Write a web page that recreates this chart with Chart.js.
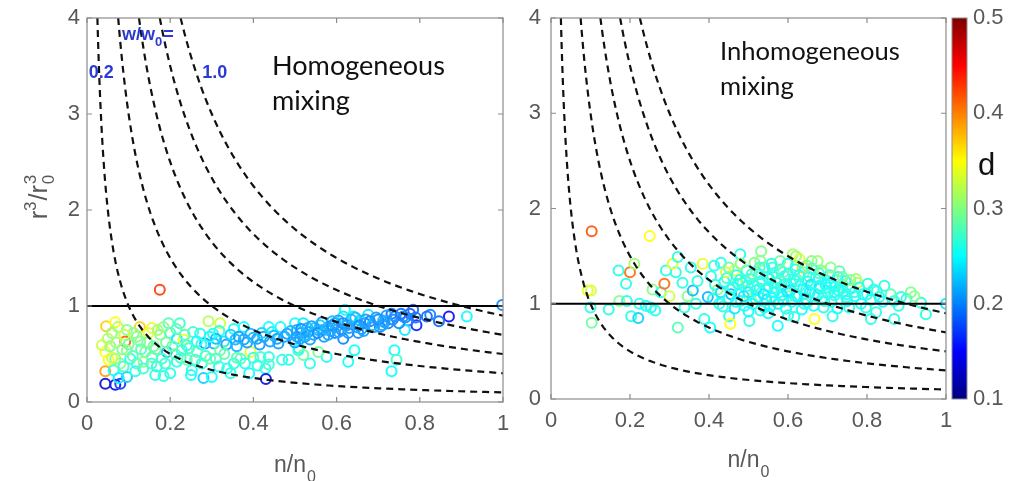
<!DOCTYPE html>
<html>
<head>
<meta charset="utf-8">
<script src="https://cdn.jsdelivr.net/npm/chart.js@4/dist/chart.umd.min.js"></script>
<style>
  html, body { margin: 0; padding: 0; background: #fff; }
  #wrap { position: relative; width: 1019px; height: 481px; overflow: hidden; background: #fff; }
  canvas { position: absolute; top: 0; }
  #homCanvas { left: 0; }
  #inhCanvas { left: 520px; }
</style>
</head>
<body>
<div id="wrap">
  <canvas id="homCanvas" width="520" height="481"></canvas>
  <canvas id="inhCanvas" width="499" height="481"></canvas>
</div>
<script>
// ---- axis ticks ----
const xTickValues = [0, 0.2, 0.4, 0.6, 0.8, 1];
const xTickLabels = ['0', '0.2', '0.4', '0.6', '0.8', '1'];
const yTickValues = [0, 1, 2, 3, 4];
const yTickLabels = ['0', '1', '2', '3', '4'];
const dTickValues = [0.1, 0.2, 0.3, 0.4, 0.5];
const dTickLabels = ['0.1', '0.2', '0.3', '0.4', '0.5'];

// ---- reference lines: w/w0 isolines (r3/r03 = level / (n/n0)) and r3/r03 = 1 ----
const isolineLevels = [0.1, 0.3, 0.5, 0.7, 0.9];
const unityLineX = [0, 1];
const unityLineY = [1, 1];

// ---- homogeneous mixing panel: n/n0, r3/r03, d ----
const homX = [
  .175,.046,.068,.074,.060,.092,.127,.112,.156,.176,
  .196,.223,.200,.216,.232,.255,.272,.292,.320,.303,
  .284,.264,.305,.329,.318,.353,.377,.393,.377,.357,
  .409,.425,.445,.437,.465,.481,.500,.505,.457,.497,
  .393,.417,.437,.469,.485,.509,.429,.437,.430,.044,
  .044,.068,.080,.096,.076,.064,.044,.036,.056,.052,
  .068,.080,.104,.096,.120,.116,.140,.128,.160,.156,
  .168,.164,.184,.188,.192,.212,.216,.228,.240,.252,
  .280,.300,.276,.296,.317,.337,.353,.369,.320,.264,
  .148,.096,.184,.240,.136,.088,.998,.913,.870,.846,
  .825,.817,.792,.776,.784,.772,.760,.764,.740,.732,
  .724,.712,.704,.676,.668,.656,.648,.640,.620,.616,
  .604,.596,.612,.616,.628,.652,.580,.568,.556,.548,
  .532,.524,.512,.536,.580,.596,.520,.643,.576,.556,
  .536,.628,.739,.744,.732,.508,.520,.310,.335,.345,
  .360,.365,.385,.400,.415,.420,.440,.450,.460,.475,
  .490,.500,.515,.530,.545,.560,.570,.585,.590,.600,
  .625,.635,.660,.670,.685,.695,.710,.720,.750,.765,
  .790,.050,.060,.070,.085,.090,.100,.110,.120,.130,
  .135,.145,.155,.165,.170,.180,.190,.200,.205,.215,
  .225,.235,.245,.250,.260,.275,.285,.295,.310,.330,
  .345,.360,.380,.390,.400,.410,.505,.515,.525,.540,
  .555,.565,.575,.590,.605,.615,.630,.645,.655,.665,
  .680,.690,.700,.715,.735,.755
];
const homY = [
  1.17,.79,.83,.78,.72,.63,.78,.72,.77,.70,
  .82,.82,.72,.66,.65,.73,.71,.84,.82,.71,
  .61,.63,.61,.63,.74,.76,.78,.71,.65,.65,
  .66,.68,.73,.78,.78,.71,.82,.75,.66,.65,
  .52,.47,.47,.44,.44,.56,.35,.39,.24,.32,
  .19,.18,.19,.26,.25,.33,.52,.59,.58,.44,
  .45,.40,.45,.54,.40,.32,.52,.63,.58,.47,
  .37,.28,.27,.40,.52,.50,.42,.54,.44,.33,
  .25,.26,.40,.45,.37,.35,.40,.45,.54,.52,
  .72,.75,.78,.59,.42,.37,1.01,.89,.89,.84,
  .91,.89,.80,.92,.96,.85,.89,.75,.89,.92,
  .82,.85,.78,.91,.82,.85,.78,.89,.96,.89,
  .85,.82,.75,.66,.72,.72,.78,.75,.75,.77,
  .73,.68,.66,.65,.70,.72,.82,.54,.47,.52,
  .40,.42,.54,.44,.32,.54,.49,.66,.60,.70,
  .58,.68,.62,.67,.60,.72,.63,.69,.61,.68,
  .74,.62,.72,.77,.70,.80,.68,.74,.84,.78,
  .80,.86,.76,.86,.80,.88,.80,.90,.82,.88,
  .88,.66,.46,.62,.55,.70,.60,.48,.68,.55,
  .35,.62,.40,.55,.75,.45,.62,.30,.58,.76,
  .46,.70,.56,.28,.44,.60,.48,.68,.45,.50,
  .30,.46,.40,.30,.46,.38,.68,.76,.70,.79,
  .72,.83,.76,.80,.73,.82,.77,.88,.80,.74,
  .84,.78,.86,.83,.86,.92
];
const homD = [
  .43,.37,.35,.32,.30,.42,.37,.30,.34,.30,
  .28,.27,.27,.24,.34,.27,.26,.32,.33,.26,
  .21,.25,.22,.24,.26,.25,.25,.22,.21,.22,
  .21,.21,.24,.25,.25,.21,.25,.21,.21,.21,
  .34,.27,.26,.26,.26,.25,.26,.27,.14,.39,
  .13,.14,.17,.23,.24,.25,.35,.33,.30,.35,
  .30,.30,.26,.30,.27,.26,.29,.30,.29,.28,
  .26,.26,.26,.27,.22,.29,.26,.26,.29,.26,
  .23,.25,.26,.29,.26,.26,.26,.28,.29,.29,
  .34,.30,.30,.26,.30,.27,.20,.25,.15,.19,
  .20,.19,.16,.18,.19,.19,.20,.24,.20,.19,
  .20,.22,.20,.24,.20,.23,.21,.24,.25,.24,
  .21,.21,.20,.20,.20,.20,.21,.21,.21,.23,
  .21,.21,.21,.21,.21,.20,.24,.25,.25,.29,
  .26,.25,.25,.27,.25,.26,.29,.22,.21,.23,
  .22,.21,.21,.22,.21,.23,.21,.22,.21,.21,
  .22,.21,.21,.22,.21,.23,.21,.21,.22,.21,
  .21,.22,.21,.21,.22,.21,.21,.21,.20,.20,
  .19,.32,.33,.31,.30,.33,.29,.28,.30,.28,
  .27,.29,.27,.29,.31,.27,.29,.26,.28,.28,
  .27,.28,.27,.25,.27,.26,.27,.25,.27,.28,
  .26,.28,.26,.25,.27,.26,.21,.20,.22,.21,
  .20,.21,.22,.20,.21,.20,.21,.22,.20,.21,
  .20,.21,.20,.21,.20,.19
];

// ---- inhomogeneous mixing panel: n/n0, r3/r03, d ----
const inhX = [
  .103,.250,.200,.211,.171,.190,.101,.093,.100,.103,
  .146,.173,.192,.203,.221,.224,.240,.253,.264,.257,
  .278,.287,.291,.300,.316,.308,.321,.321,.333,.338,
  .346,.354,.359,.367,.371,.384,.388,.397,.403,.405,
  .413,.422,.426,.430,.439,.443,.451,.456,.454,.464,
  .473,.479,.481,.494,.502,.506,.515,.519,.527,.532,
  .540,.544,.553,.561,.565,.574,.582,.591,.599,.603,
  .612,.616,.620,.629,.637,.641,.646,.654,.667,.675,
  .679,.688,.692,.700,.713,.717,.726,.734,.747,.755,
  .772,.776,.789,.797,.802,.810,.817,.823,.831,.844,
  .869,.869,.886,.911,.937,.949,1.000,.410,.415,.430,
  .435,.445,.450,.460,.465,.470,.475,.485,.490,.495,
  .500,.505,.510,.515,.520,.525,.530,.535,.540,.545,
  .550,.555,.560,.565,.570,.575,.580,.585,.590,.595,
  .600,.605,.610,.615,.620,.625,.630,.635,.640,.645,
  .650,.655,.660,.665,.670,.675,.680,.685,.690,.695,
  .700,.705,.710,.720,.725,.730,.740,.745,.750,.760,
  .770,.780,.785,.800,.810,.825,.840,.860,.880,.900,
  .920,.550,.600,.500,.450,.480,.530,.580,.620,.660,
  .455,.468,.478,.488,.498,.508,.518,.528,.538,.548,
  .558,.568,.578,.588,.598,.608,.618,.628,.638,.648,
  .658,.668,.678,.688,.698,.708,.718,.728,.738,.748,
  .758,.768,.528,.558,.588,.618,.648,.678,.708,.738
];
const inhY = [
  1.76,1.71,1.33,1.42,1.35,1.21,1.14,1.14,.96,.80,
  .94,1.03,1.03,.87,.85,1.00,.98,.96,.93,1.15,
  1.12,1.21,1.35,1.08,1.33,1.42,1.49,.75,1.22,.96,
  1.08,1.38,1.14,1.00,1.24,1.42,.84,1.07,.75,1.29,
  1.40,1.15,1.00,1.43,1.23,1.33,.87,1.10,.79,1.35,
  1.21,1.52,1.03,1.24,.82,1.05,1.43,1.14,1.31,1.55,
  .96,1.15,1.26,1.38,1.03,.77,1.17,1.29,1.42,1.08,
  1.52,.86,1.24,1.47,1.38,1.00,1.15,1.28,.84,1.45,
  1.19,1.33,1.03,1.24,.87,1.12,1.28,1.17,1.07,.96,
  1.26,1.22,1.10,.96,1.21,.84,1.15,.91,1.07,1.19,
  .84,1.03,1.07,1.12,1.01,.89,1.00,1.05,1.20,1.12,
  .97,1.27,1.06,1.17,.95,1.30,1.10,1.22,.98,1.35,
  1.12,1.26,1.00,1.19,1.33,1.07,.93,1.24,1.38,1.04,
  1.18,.97,1.30,1.12,1.22,1.00,1.36,1.09,1.20,.95,
  1.31,1.14,1.02,1.26,1.40,1.08,1.19,.94,1.33,1.05,
  1.23,1.12,1.37,.98,1.27,1.09,1.16,1.35,.96,1.20,
  1.11,1.30,1.02,1.18,.95,1.34,1.13,1.24,1.03,1.16,
  1.08,1.17,1.00,1.10,1.04,1.13,1.02,1.10,.98,1.05,
  1.08,.90,.88,.92,1.38,1.42,1.45,1.45,1.50,1.45,
  1.15,1.02,1.25,1.08,1.19,1.31,1.05,1.16,1.10,1.28,
  1.06,1.17,1.24,1.03,1.13,1.21,1.08,1.30,1.15,1.01,
  1.20,1.11,1.26,1.06,1.17,1.22,1.09,1.14,1.20,1.10,
  1.25,1.12,1.38,1.42,1.33,1.36,1.40,1.32,1.38,1.28
];
const inhD = [
  .42,.35,.41,.31,.26,.26,.33,.34,.26,.29,
  .26,.30,.26,.26,.23,.26,.25,.25,.26,.30,
  .26,.41,.26,.33,.26,.34,.26,.28,.26,.26,
  .30,.26,.22,.26,.26,.34,.26,.22,.25,.26,
  .26,.30,.26,.26,.25,.33,.26,.22,.35,.34,
  .26,.26,.26,.30,.26,.33,.30,.26,.26,.30,
  .25,.26,.25,.26,.29,.25,.26,.26,.25,.30,
  .31,.26,.26,.34,.37,.26,.26,.26,.35,.31,
  .26,.30,.26,.26,.26,.26,.26,.26,.26,.26,
  .31,.32,.26,.26,.26,.26,.26,.26,.26,.26,
  .26,.26,.26,.30,.26,.26,.24,.25,.26,.24,
  .26,.27,.25,.26,.24,.26,.25,.27,.25,.26,
  .24,.26,.25,.26,.29,.25,.26,.26,.26,.24,
  .26,.25,.27,.25,.26,.24,.26,.25,.26,.25,
  .26,.24,.25,.26,.27,.25,.26,.25,.29,.24,
  .26,.25,.26,.25,.26,.25,.24,.30,.26,.25,
  .26,.26,.25,.26,.25,.28,.25,.26,.25,.26,
  .25,.26,.25,.26,.25,.26,.25,.28,.26,.26,
  .30,.25,.26,.25,.29,.30,.30,.29,.31,.30,
  .26,.25,.26,.24,.26,.27,.25,.26,.24,.26,
  .25,.26,.27,.25,.24,.26,.25,.26,.25,.26,
  .24,.26,.25,.26,.26,.25,.26,.25,.27,.26,
  .30,.26,.27,.26,.28,.26,.29,.27,.30,.29
];

const D_MIN = 0.1, D_MAX = 0.5;
const TICK_COLOR = '#585858';
const FRAME_COLOR = '#8c8c8c';
const TICK_FONT = { family: '"Liberation Sans", Arial, sans-serif', size: 22 };

// jet colour map on [0,1]
function jet(t) {
  const c = v => Math.max(0, Math.min(1, v));
  return [c(1.5 - Math.abs(4 * t - 3)), c(1.5 - Math.abs(4 * t - 2)), c(1.5 - Math.abs(4 * t - 1))];
}
function dColor(d, soften) {
  const t = Math.max(0, Math.min(1, (d - D_MIN) / (D_MAX - D_MIN)));
  const k = soften === undefined ? 0.12 : soften;
  const rgb = jet(t).map(v => Math.round((v * (1 - k) + k) * 255));
  return `rgb(${rgb[0]},${rgb[1]},${rgb[2]})`;
}

function isolinePoints(level) {
  const pts = [];
  const x0 = level / 4;
  const n = 90;
  for (let i = 0; i <= n; i++) {
    const x = x0 + (1 - x0) * Math.pow(i / n, 2);
    pts.push({ x: x, y: level / x });
  }
  return pts;
}

function buildDatasets(xs, ys, ds) {
  const sets = [];
  isolineLevels.forEach(level => sets.push({
    type: 'line', data: isolinePoints(level), borderColor: '#111', borderWidth: 2.2,
    borderDash: [7, 5], pointRadius: 0, tension: 0, fill: false
  }));
  sets.push({
    type: 'line', data: unityLineX.map((x, i) => ({ x: x, y: unityLineY[i] })),
    borderColor: '#000', borderWidth: 2, pointRadius: 0, fill: false
  });
  sets.push({
    type: 'scatter', data: xs.map((x, i) => ({ x: x, y: ys[i] })),
    pointStyle: 'circle', pointRadius: 5, pointBorderWidth: 2,
    pointBackgroundColor: 'rgba(0,0,0,0)',
    pointBorderColor: ds.map(d => dColor(d))
  });
  return sets;
}

// axis with fixed tick values; the label gap is made with an invisible tick mark
function tickAxis(values, labels, gap, extra) {
  return Object.assign({
    type: 'linear',
    afterBuildTicks: s => { s.ticks = values.map(v => ({ value: v })); },
    ticks: {
      color: TICK_COLOR, font: TICK_FONT, padding: 0,
      callback: (v) => { const i = values.indexOf(v); return i >= 0 ? labels[i] : ''; }
    },
    grid: {
      display: true, drawOnChartArea: false, drawTicks: true,
      tickLength: gap, color: 'rgba(0,0,0,0)'
    },
    border: { display: false }
  }, extra);
}

// box frame with inward tick marks on all four sides
function drawFrame(chart) {
  const { ctx, chartArea: a, scales: { x, y } } = chart;
  ctx.save();
  ctx.strokeStyle = FRAME_COLOR;
  ctx.lineWidth = 1.2;
  ctx.strokeRect(a.left, a.top, a.right - a.left, a.bottom - a.top);
  ctx.beginPath();
  xTickValues.forEach(v => {
    const px = x.getPixelForValue(v);
    ctx.moveTo(px, a.bottom); ctx.lineTo(px, a.bottom - 5);
    ctx.moveTo(px, a.top); ctx.lineTo(px, a.top + 5);
  });
  yTickValues.forEach(v => {
    const py = y.getPixelForValue(v);
    ctx.moveTo(a.left, py); ctx.lineTo(a.left + 5, py);
    ctx.moveTo(a.right, py); ctx.lineTo(a.right - 5, py);
  });
  ctx.stroke();
  ctx.restore();
}

// x axis title n/n0 with subscript
function drawXTitle(chart, baselineOffset) {
  const { ctx, chartArea: a } = chart;
  const cx = (a.left + a.right) / 2;
  const base = a.bottom + baselineOffset;
  ctx.save();
  ctx.fillStyle = TICK_COLOR;
  ctx.textBaseline = 'alphabetic';
  ctx.textAlign = 'left';
  const mainFont = '23px "Liberation Sans", Arial, sans-serif';
  const subFont = '16px "Liberation Sans", Arial, sans-serif';
  ctx.font = mainFont;
  const wMain = ctx.measureText('n/n').width;
  ctx.font = subFont;
  const wSub = ctx.measureText('0').width;
  const x0 = cx - (wMain + wSub + 1) / 2;
  ctx.font = mainFont;
  ctx.fillText('n/n', x0, base);
  ctx.font = subFont;
  ctx.fillText('0', x0 + wMain + 1, base + 10);
  ctx.restore();
}

// two-line panel caption, scaled to a given first-line width
function drawCaption(ctx, lines, x, y0, lineGap, targetWidth) {
  ctx.save();
  ctx.font = '100px Lato, "Open Sans", sans-serif';
  const w = ctx.measureText(lines[0]).width;
  const size = 100 * targetWidth / w;
  ctx.font = `${size}px Lato, "Open Sans", sans-serif`;
  ctx.fillStyle = '#111';
  ctx.textAlign = 'left';
  ctx.textBaseline = 'alphabetic';
  lines.forEach((t, i) => ctx.fillText(t, x, y0 + i * lineGap));
  ctx.restore();
}

const homDecor = {
  id: 'homDecor',
  afterDraw(chart) {
    const { ctx, scales: { x, y } } = chart;
    drawFrame(chart);
    drawXTitle(chart, 70);

    // y axis title r^3 / r0^3, rotated
    ctx.save();
    ctx.translate(47, 197);
    ctx.rotate(-Math.PI / 2);
    ctx.fillStyle = TICK_COLOR;
    ctx.textBaseline = 'alphabetic';
    const big = '25px "Liberation Sans", Arial, sans-serif';
    const small = '17px "Liberation Sans", Arial, sans-serif';
    ctx.font = big;
    const wr = ctx.measureText('r').width;
    const wsl = ctx.measureText('/r').width;
    ctx.font = small;
    const w3 = ctx.measureText('3').width;
    const total = wr + w3 + wsl + w3 + 2;
    let cx = -total / 2;
    ctx.font = big; ctx.fillText('r', cx, 0); cx += wr;
    ctx.font = small; ctx.fillText('3', cx, -11); cx += w3 + 1;
    ctx.font = big; ctx.fillText('/r', cx, 0); cx += wsl + 1;
    ctx.font = small; ctx.fillText('3', cx, -11); ctx.fillText('0', cx, 7);
    ctx.restore();

    // w/w0 isoline labels
    ctx.save();
    ctx.fillStyle = '#2b3bd0';
    ctx.textBaseline = 'alphabetic';
    ctx.textAlign = 'left';
    const lbl = 'bold 18px "Liberation Sans", Arial, sans-serif';
    const lblSub = 'bold 13px "Liberation Sans", Arial, sans-serif';
    let px = x.getPixelForValue(0.084);
    const py = y.getPixelForValue(3.77);
    ctx.font = lbl;
    ctx.fillText('w/w', px, py);
    px += ctx.measureText('w/w').width;
    ctx.font = lblSub;
    ctx.fillText('0', px, py + 6);
    px += ctx.measureText('0').width;
    ctx.font = lbl;
    ctx.fillText('=', px + 1, py);
    const ly = y.getPixelForValue(3.37);
    ctx.fillText('0.2', x.getPixelForValue(0.004), ly);
    ctx.fillText('1.0', x.getPixelForValue(0.277), ly);
    ctx.restore();

    drawCaption(ctx, ['Homogeneous', 'mixing'], 272, 75, 35, 173);
  }
};

const inhDecor = {
  id: 'inhDecor',
  afterDraw(chart) {
    const { ctx, chartArea: a, scales: { c } } = chart;
    drawFrame(chart);
    drawXTitle(chart, 68);
    drawCaption(ctx, ['Inhomogeneous', 'mixing'], 200, 60, 35, 180);

    // colour bar for d
    const top = c.getPixelForValue(D_MAX);
    const bottom = c.getPixelForValue(D_MIN);
    const left = a.right + 6, width = 15;
    const grad = ctx.createLinearGradient(0, bottom, 0, top);
    for (let i = 0; i <= 32; i++) grad.addColorStop(i / 32, dColor(D_MIN + (D_MAX - D_MIN) * i / 32, 0));
    ctx.save();
    ctx.fillStyle = grad;
    ctx.fillRect(left, top, width, bottom - top);
    ctx.strokeStyle = FRAME_COLOR;
    ctx.lineWidth = 1;
    ctx.strokeRect(left, top, width, bottom - top);
    ctx.fillStyle = '#111';
    ctx.font = '31px "Liberation Sans", Arial, sans-serif';
    ctx.textBaseline = 'alphabetic';
    ctx.textAlign = 'left';
    ctx.fillText('d', left + 26, 175);
    ctx.restore();
  }
};

Chart.defaults.animation = false;

new Chart(document.getElementById('homCanvas'), {
  type: 'scatter',
  data: { datasets: buildDatasets(homX, homY, homD) },
  options: {
    responsive: false,
    animation: false,
    events: [],
    layout: { padding: { top: 18, right: 17, left: 0, bottom: 0 } },
    plugins: { legend: { display: false }, tooltip: { enabled: false } },
    scales: {
      x: tickAxis(xTickValues, xTickLabels, 9, {
        position: 'bottom', min: 0, max: 1,
        afterFit: s => { s.height = 79; }
      }),
      y: tickAxis(yTickValues, yTickLabels, 7, {
        position: 'left', min: 0, max: 4,
        afterFit: s => { s.width = 87; }
      })
    }
  },
  plugins: [homDecor]
});

new Chart(document.getElementById('inhCanvas'), {
  type: 'scatter',
  data: { datasets: buildDatasets(inhX, inhY, inhD) },
  options: {
    responsive: false,
    animation: false,
    events: [],
    layout: { padding: { top: 18, right: 0, left: 0, bottom: 0 } },
    plugins: { legend: { display: false }, tooltip: { enabled: false } },
    scales: {
      x: tickAxis(xTickValues, xTickLabels, 9, {
        position: 'bottom', min: 0, max: 1,
        afterFit: s => { s.height = 82; }
      }),
      y: tickAxis(yTickValues, yTickLabels, 10, {
        position: 'left', min: 0, max: 4,
        afterFit: s => { s.width = 31; }
      }),
      c: tickAxis(dTickValues, dTickLabels, 27, {
        position: 'right', min: D_MIN, max: D_MAX,
        afterFit: s => { s.width = 73; }
      })
    }
  },
  plugins: [inhDecor]
});
</script>
</body>
</html>
